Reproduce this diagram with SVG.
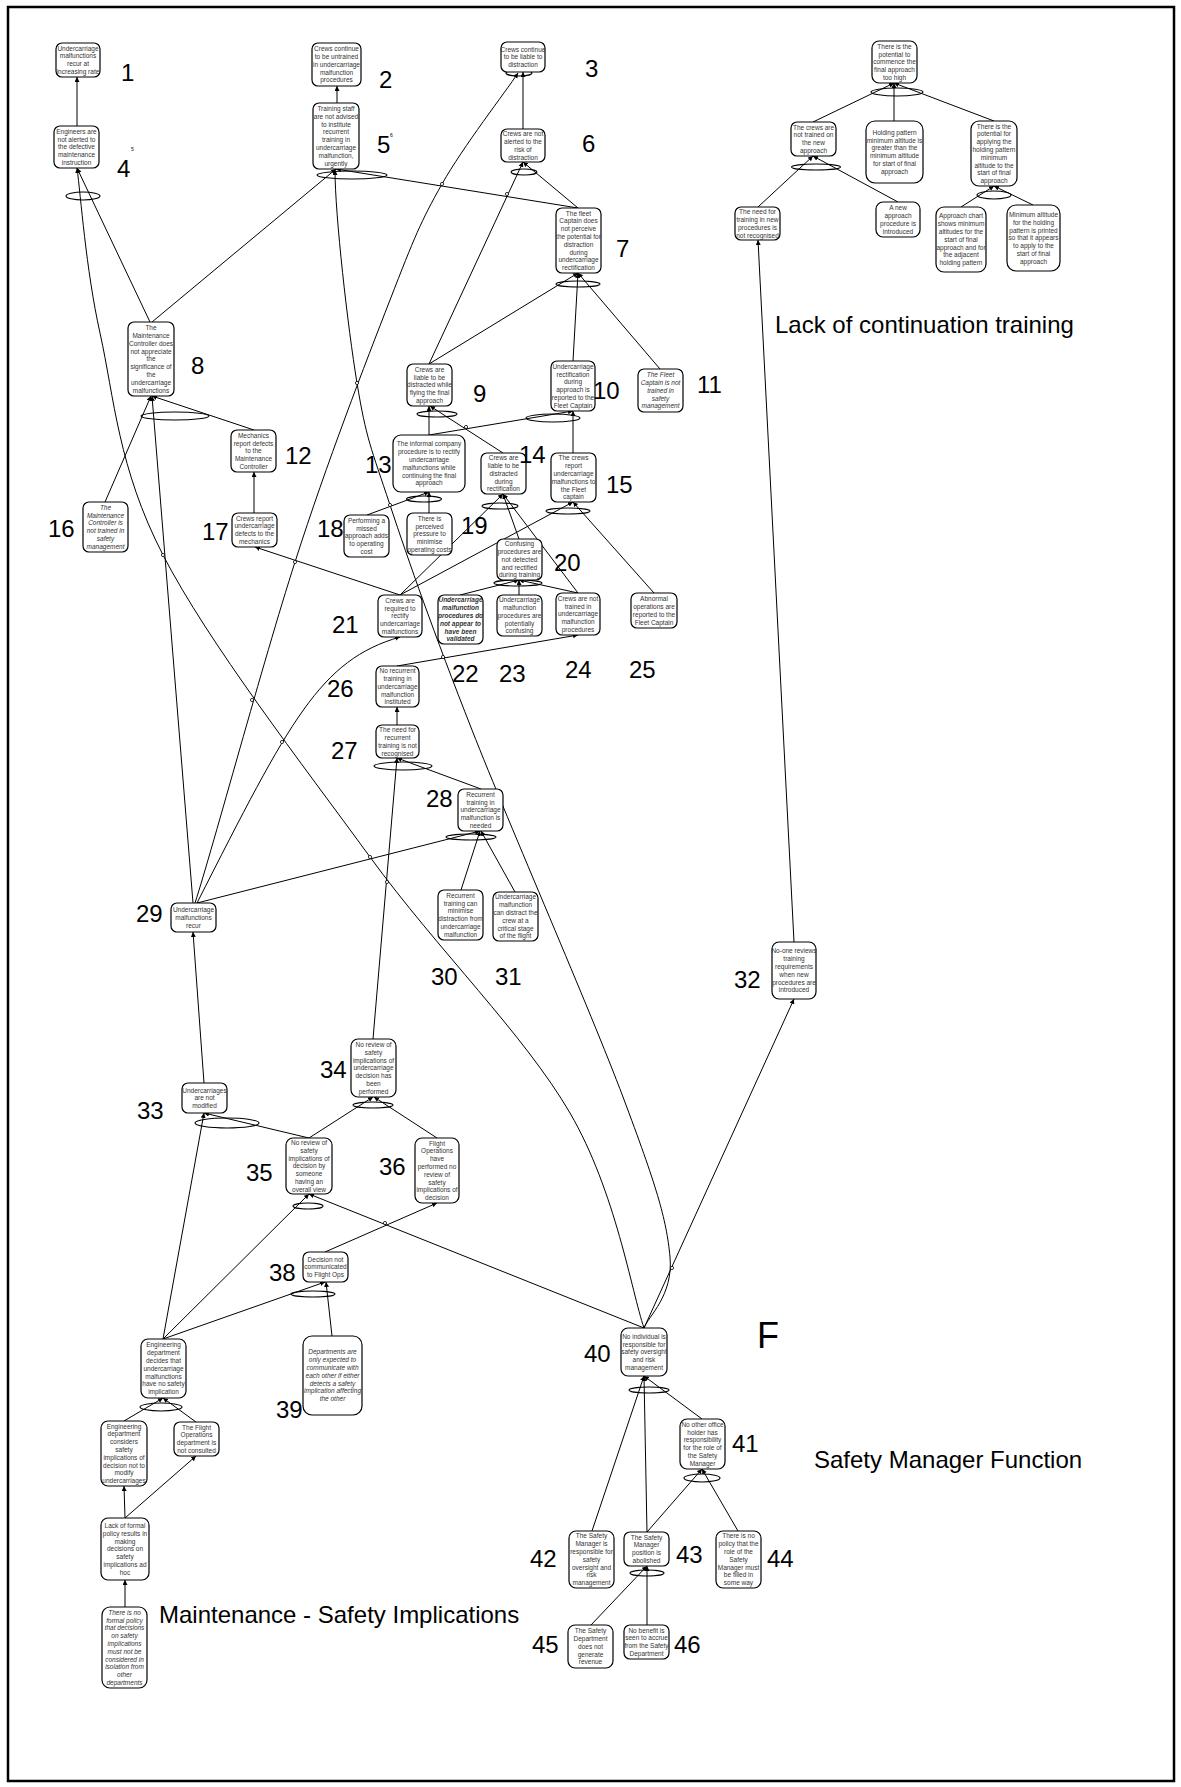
<svg xmlns="http://www.w3.org/2000/svg" width="1181" height="1787" viewBox="0 0 1181 1787">
<style>
  .n rect { fill:#fff; stroke:#000; stroke-width:1.2; }
  .n text { font-family:"Liberation Sans", Arial, sans-serif; font-size:6.5px; fill:#333; text-anchor:middle; }
  .it text { font-style:italic; }
  .bi text { font-style:italic; font-weight:bold; }
  .lbl { font-family:"Liberation Sans", Arial, sans-serif; font-size:24px; fill:#000; }
  .tiny { font-family:"Liberation Sans", Arial, sans-serif; font-size:5px; fill:#000; }
  #connectors path { fill:none; stroke:#000; stroke-width:1; marker-end:url(#ah); }
  #junctions ellipse { fill:none; stroke:#000; stroke-width:1.1; }
  #hops circle { fill:#fff; stroke:#000; stroke-width:0.8; }
</style>
<defs>
  <marker id="ah" markerUnits="userSpaceOnUse" markerWidth="6" markerHeight="6" refX="5" refY="2.5" orient="auto">
    <path d="M0,0 L5,2.5 L0,5 z" fill="#000"/>
  </marker>
</defs>
<rect x="0" y="0" width="1181" height="1787" fill="#fff"/>
<rect x="8" y="7" width="1166" height="1774" fill="none" stroke="#000" stroke-width="2.5"/>

<!-- connectors: cause (lower) to effect (upper) -->
<g id="connectors">
  <path d="M77,126 L77,77"/>
  <path d="M337,103 L337,86"/>
  <path d="M523,129 L523,72"/>
  <path d="M195,903 C213.3,846.2 262.8,662.5 295,562 C327.2,461.5 365.5,363 390,300 C414.5,237 420.7,221.7 442,184 C463.3,146.3 505.3,92.3 518,73"/>
  <path d="M150,322 L77,168"/>
  <path d="M644,1328 C631.7,1292.2 615.7,1191.5 570,1113 C524.3,1034.5 437.8,950 370,857 C302.2,764 208,642.3 163,555 C118,467.7 114.3,397.5 100,333 C85.7,268.5 80.8,195.5 77,168"/>
  <path d="M152,322 L336,169"/>
  <path d="M578,208 L336,169"/>
  <path d="M644,1328 C648.3,1316.2 673.5,1295.5 670,1257 C666.5,1218.5 656,1184.8 623,1097 C590,1009.2 510.8,828.7 472,730 C433.2,631.3 409.2,562.8 390,505 C370.8,447.2 366.2,438.8 357,383 C347.8,327.2 335,215 335,170"/>
  <path d="M429,364 L523,162"/>
  <path d="M578,208 L523,162"/>
  <path d="M429,364 L578,273"/>
  <path d="M573,361 L578,273"/>
  <path d="M660,369 L578,273"/>
  <path d="M429,435 L429,406"/>
  <path d="M503,453 L430,406"/>
  <path d="M429,435 L573,411"/>
  <path d="M573,453 L573,411"/>
  <path d="M367,515 L429,492"/>
  <path d="M429,513 L429,492"/>
  <path d="M400,595 L503,494"/>
  <path d="M519,539 L503,494"/>
  <path d="M578,593 L503,494"/>
  <path d="M400,595 L573,502"/>
  <path d="M654,593 L573,502"/>
  <path d="M460,595 L519,580"/>
  <path d="M519,595 L519,580"/>
  <path d="M578,593 L519,580"/>
  <path d="M400,595 L255,547"/>
  <path d="M254,513 L254,472"/>
  <path d="M254,430 L152,396"/>
  <path d="M105,502 L151,396"/>
  <path d="M193,903 L152,396"/>
  <path d="M197,903 C290,720 320,660 400,637"/>
  <path d="M397,666 L578,635"/>
  <path d="M397,725 L397,707"/>
  <path d="M481,789 L397,758"/>
  <path d="M373,1039 L397,758"/>
  <path d="M197,903 L480,831"/>
  <path d="M461,890 L480,831"/>
  <path d="M515,892 L481,831"/>
  <path d="M204,1083 L193,932"/>
  <path d="M163,1339 L204,1113"/>
  <path d="M309,1138 L204,1113"/>
  <path d="M309,1138 L373,1097"/>
  <path d="M437,1138 L374,1097"/>
  <path d="M163,1339 L309,1194"/>
  <path d="M644,1328 L309,1194"/>
  <path d="M325,1252 L437,1203"/>
  <path d="M163,1339 L325,1282"/>
  <path d="M332,1336 L326,1282"/>
  <path d="M124,1421 L163,1398"/>
  <path d="M196,1422 L163,1398"/>
  <path d="M125,1518 L124,1486"/>
  <path d="M125,1518 L196,1456"/>
  <path d="M125,1607 L125,1580"/>
  <path d="M592,1531 L644,1376"/>
  <path d="M647,1532 L644,1376"/>
  <path d="M702,1419 L644,1376"/>
  <path d="M647,1532 L702,1469"/>
  <path d="M738,1531 L702,1469"/>
  <path d="M591,1625 L647,1566"/>
  <path d="M647,1625 L647,1566"/>
  <path d="M644,1328 L794,999"/>
  <path d="M794,942 L758,240"/>
  <path d="M758,207 L813,156"/>
  <path d="M898,202 L813,156"/>
  <path d="M813,122 L894,83"/>
  <path d="M894,121 L894,83"/>
  <path d="M994,121 L894,83"/>
  <path d="M961,207 L994,186"/>
  <path d="M1033,205 L994,186"/>
</g>

<!-- line-crossing hops -->
<g id="hops">
  <circle cx="163" cy="555" r="1.6"/>
  <circle cx="252" cy="700" r="1.6"/>
  <circle cx="282" cy="742" r="1.6"/>
  <circle cx="295" cy="562" r="1.6"/>
  <circle cx="370" cy="857" r="1.6"/>
  <circle cx="387" cy="882" r="1.6"/>
  <circle cx="390" cy="505" r="1.6"/>
  <circle cx="442" cy="184" r="1.6"/>
  <circle cx="507" cy="194" r="1.6"/>
  <circle cx="466" cy="427" r="1.6"/>
  <circle cx="443" cy="657" r="1.6"/>
  <circle cx="385" cy="1223" r="1.6"/>
  <circle cx="672" cy="1268" r="1.6"/>
  <circle cx="357" cy="383" r="1.6"/>
</g>

<!-- AND junctions -->
<g id="junctions">
  <ellipse cx="83" cy="196" rx="17" ry="4"/>
  <ellipse cx="352" cy="175" rx="35" ry="4"/>
  <ellipse cx="519" cy="73" rx="13" ry="3"/>
  <ellipse cx="524" cy="172" rx="13" ry="3"/>
  <ellipse cx="578" cy="284" rx="22" ry="3"/>
  <ellipse cx="175" cy="416" rx="34" ry="4"/>
  <ellipse cx="437" cy="414" rx="20" ry="3"/>
  <ellipse cx="553" cy="418" rx="27" ry="4"/>
  <ellipse cx="424" cy="499" rx="17.5" ry="3"/>
  <ellipse cx="500" cy="506" rx="18" ry="3"/>
  <ellipse cx="568" cy="511" rx="22" ry="3"/>
  <ellipse cx="518" cy="583" rx="24" ry="3"/>
  <ellipse cx="403" cy="766" rx="29" ry="4"/>
  <ellipse cx="471" cy="837" rx="25" ry="3"/>
  <ellipse cx="227" cy="1123" rx="32" ry="5"/>
  <ellipse cx="373" cy="1105" rx="20" ry="3"/>
  <ellipse cx="308" cy="1206" rx="15" ry="3"/>
  <ellipse cx="313" cy="1294" rx="22" ry="3"/>
  <ellipse cx="161" cy="1407" rx="21" ry="4"/>
  <ellipse cx="649" cy="1390" rx="20" ry="3"/>
  <ellipse cx="702" cy="1478" rx="18" ry="4"/>
  <ellipse cx="647" cy="1573" rx="17" ry="3"/>
  <ellipse cx="897" cy="92" rx="26" ry="4"/>
  <ellipse cx="816" cy="167" rx="24.5" ry="3"/>
  <ellipse cx="994" cy="195" rx="17" ry="4"/>
</g>

<!-- nodes -->
<g id="n1" class="n"><rect x="56" y="43" width="44" height="34" rx="6"/><text x="78" y="50.6"><tspan x="78">Undercarriage</tspan><tspan x="78" dy="7.8">malfunctions</tspan><tspan x="78" dy="7.8">recur at</tspan><tspan x="78" dy="7.8">increasing rate</tspan></text></g>
<g id="n2" class="n"><rect x="312" y="43" width="49" height="43" rx="6"/><text x="336.5" y="51.2"><tspan x="336.5">Crews continue</tspan><tspan x="336.5" dy="7.8">to be untrained</tspan><tspan x="336.5" dy="7.8">in undercarriage</tspan><tspan x="336.5" dy="7.8">malfunction</tspan><tspan x="336.5" dy="7.8">procedures</tspan></text></g>
<g id="n3" class="n"><rect x="501" y="42" width="44" height="30" rx="6"/><text x="523" y="51.5"><tspan x="523">Crews continue</tspan><tspan x="523" dy="7.8">to be liable to</tspan><tspan x="523" dy="7.8">distraction</tspan></text></g>
<g id="n4" class="n"><rect x="54" y="126" width="45" height="42" rx="6"/><text x="76.5" y="133.7"><tspan x="76.5">Engineers are</tspan><tspan x="76.5" dy="7.8">not alerted to</tspan><tspan x="76.5" dy="7.8">the defective</tspan><tspan x="76.5" dy="7.8">maintenance</tspan><tspan x="76.5" dy="7.8">instruction</tspan></text></g>
<g id="n5" class="n"><rect x="313" y="103" width="46" height="66" rx="6"/><text x="336" y="111"><tspan x="336">Training staff</tspan><tspan x="336" dy="7.8">are not advised</tspan><tspan x="336" dy="7.8">to institute</tspan><tspan x="336" dy="7.8">recurrent</tspan><tspan x="336" dy="7.8">training in</tspan><tspan x="336" dy="7.8">undercarriage</tspan><tspan x="336" dy="7.8">malfunction,</tspan><tspan x="336" dy="7.8">urgently</tspan></text></g>
<g id="n6" class="n"><rect x="501" y="129" width="44" height="33" rx="6"/><text x="523" y="136.1"><tspan x="523">Crews are not</tspan><tspan x="523" dy="7.8">alerted to the</tspan><tspan x="523" dy="7.8">risk of</tspan><tspan x="523" dy="7.8">distraction</tspan></text></g>
<g id="n7" class="n"><rect x="556" y="208" width="45" height="65" rx="6"/><text x="578.5" y="215.5"><tspan x="578.5">The fleet</tspan><tspan x="578.5" dy="7.8">Captain does</tspan><tspan x="578.5" dy="7.8">not perceive</tspan><tspan x="578.5" dy="7.8">the potential for</tspan><tspan x="578.5" dy="7.8">distraction</tspan><tspan x="578.5" dy="7.8">during</tspan><tspan x="578.5" dy="7.8">undercarriage</tspan><tspan x="578.5" dy="7.8">rectification</tspan></text></g>
<g id="n8" class="n"><rect x="128" y="322" width="46" height="74" rx="6"/><text x="151" y="330.1"><tspan x="151">The</tspan><tspan x="151" dy="7.8">Maintenance</tspan><tspan x="151" dy="7.8">Controller does</tspan><tspan x="151" dy="7.8">not appreciate</tspan><tspan x="151" dy="7.8">the</tspan><tspan x="151" dy="7.8">significance of</tspan><tspan x="151" dy="7.8">the</tspan><tspan x="151" dy="7.8">undercarriage</tspan><tspan x="151" dy="7.8">malfunctions</tspan></text></g>
<g id="n9" class="n"><rect x="407" y="364" width="45" height="42" rx="6"/><text x="429.5" y="371.7"><tspan x="429.5">Crews are</tspan><tspan x="429.5" dy="7.8">liable to be</tspan><tspan x="429.5" dy="7.8">distracted while</tspan><tspan x="429.5" dy="7.8">flying the final</tspan><tspan x="429.5" dy="7.8">approach</tspan></text></g>
<g id="n10" class="n"><rect x="551" y="361" width="44" height="50" rx="6"/><text x="573" y="368.8"><tspan x="573">Undercarriage</tspan><tspan x="573" dy="7.8">rectification</tspan><tspan x="573" dy="7.8">during</tspan><tspan x="573" dy="7.8">approach is</tspan><tspan x="573" dy="7.8">reported to the</tspan><tspan x="573" dy="7.8">Fleet Captain</tspan></text></g>
<g id="n11" class="n it"><rect x="638" y="369" width="45" height="43" rx="6"/><text x="660.5" y="377.2"><tspan x="660.5">The Fleet</tspan><tspan x="660.5" dy="7.8">Captain is not</tspan><tspan x="660.5" dy="7.8">trained in</tspan><tspan x="660.5" dy="7.8">safety</tspan><tspan x="660.5" dy="7.8">management</tspan></text></g>
<g id="n12" class="n"><rect x="231" y="430" width="45" height="42" rx="6"/><text x="253.5" y="437.7"><tspan x="253.5">Mechanics</tspan><tspan x="253.5" dy="7.8">report defects</tspan><tspan x="253.5" dy="7.8">to the</tspan><tspan x="253.5" dy="7.8">Maintenance</tspan><tspan x="253.5" dy="7.8">Controller</tspan></text></g>
<g id="n13" class="n"><rect x="393" y="435" width="72" height="57" rx="8"/><text x="429" y="446.3"><tspan x="429">The informal company</tspan><tspan x="429" dy="7.8">procedure is to rectify</tspan><tspan x="429" dy="7.8">undercarriage</tspan><tspan x="429" dy="7.8">malfunctions while</tspan><tspan x="429" dy="7.8">continuing the final</tspan><tspan x="429" dy="7.8">approach</tspan></text></g>
<g id="n14" class="n"><rect x="481" y="453" width="45" height="41" rx="6"/><text x="503.5" y="460.2"><tspan x="503.5">Crews are</tspan><tspan x="503.5" dy="7.8">liable to be</tspan><tspan x="503.5" dy="7.8">distracted</tspan><tspan x="503.5" dy="7.8">during</tspan><tspan x="503.5" dy="7.8">rectification</tspan></text></g>
<g id="n15" class="n"><rect x="551" y="453" width="45" height="49" rx="6"/><text x="573.5" y="460.3"><tspan x="573.5">The crews</tspan><tspan x="573.5" dy="7.8">report</tspan><tspan x="573.5" dy="7.8">undercarriage</tspan><tspan x="573.5" dy="7.8">malfunctions to</tspan><tspan x="573.5" dy="7.8">the Fleet</tspan><tspan x="573.5" dy="7.8">captain</tspan></text></g>
<g id="n16" class="n it"><rect x="83" y="502" width="45" height="50" rx="6"/><text x="105.5" y="509.8"><tspan x="105.5">The</tspan><tspan x="105.5" dy="7.8">Maintenance</tspan><tspan x="105.5" dy="7.8">Controller is</tspan><tspan x="105.5" dy="7.8">not trained in</tspan><tspan x="105.5" dy="7.8">safety</tspan><tspan x="105.5" dy="7.8">management</tspan></text></g>
<g id="n17" class="n"><rect x="232" y="513" width="45" height="34" rx="6"/><text x="254.5" y="520.6"><tspan x="254.5">Crews report</tspan><tspan x="254.5" dy="7.8">undercarriage</tspan><tspan x="254.5" dy="7.8">defects to the</tspan><tspan x="254.5" dy="7.8">mechanics</tspan></text></g>
<g id="n18" class="n"><rect x="344" y="515" width="45" height="42" rx="6"/><text x="366.5" y="522.7"><tspan x="366.5">Performing a</tspan><tspan x="366.5" dy="7.8">missed</tspan><tspan x="366.5" dy="7.8">approach adds</tspan><tspan x="366.5" dy="7.8">to operating</tspan><tspan x="366.5" dy="7.8">cost</tspan></text></g>
<g id="n19" class="n"><rect x="407" y="513" width="45" height="42" rx="6"/><text x="429.5" y="520.7"><tspan x="429.5">There is</tspan><tspan x="429.5" dy="7.8">perceived</tspan><tspan x="429.5" dy="7.8">pressure to</tspan><tspan x="429.5" dy="7.8">minimise</tspan><tspan x="429.5" dy="7.8">operating costs</tspan></text></g>
<g id="n20" class="n"><rect x="497" y="539" width="45" height="41" rx="6"/><text x="519.5" y="546.2"><tspan x="519.5">Confusing</tspan><tspan x="519.5" dy="7.8">procedures are</tspan><tspan x="519.5" dy="7.8">not detected</tspan><tspan x="519.5" dy="7.8">and rectified</tspan><tspan x="519.5" dy="7.8">during training</tspan></text></g>
<g id="n21" class="n"><rect x="378" y="595" width="44" height="42" rx="6"/><text x="400" y="602.7"><tspan x="400">Crews are</tspan><tspan x="400" dy="7.8">required to</tspan><tspan x="400" dy="7.8">rectify</tspan><tspan x="400" dy="7.8">undercarriage</tspan><tspan x="400" dy="7.8">malfunctions</tspan></text></g>
<g id="n22" class="n bi"><rect x="438" y="595" width="45" height="49" rx="6"/><text x="460.5" y="602.3"><tspan x="460.5">Undercarriage</tspan><tspan x="460.5" dy="7.8">malfunction</tspan><tspan x="460.5" dy="7.8">procedures do</tspan><tspan x="460.5" dy="7.8">not appear to</tspan><tspan x="460.5" dy="7.8">have been</tspan><tspan x="460.5" dy="7.8">validated</tspan></text></g>
<g id="n23" class="n"><rect x="497" y="595" width="45" height="41" rx="6"/><text x="519.5" y="602.2"><tspan x="519.5">Undercarriage</tspan><tspan x="519.5" dy="7.8">malfunction</tspan><tspan x="519.5" dy="7.8">procedures are</tspan><tspan x="519.5" dy="7.8">potentially</tspan><tspan x="519.5" dy="7.8">confusing</tspan></text></g>
<g id="n24" class="n"><rect x="556" y="593" width="44" height="42" rx="6"/><text x="578" y="600.7"><tspan x="578">Crews are not</tspan><tspan x="578" dy="7.8">trained in</tspan><tspan x="578" dy="7.8">undercarriage</tspan><tspan x="578" dy="7.8">malfunction</tspan><tspan x="578" dy="7.8">procedures</tspan></text></g>
<g id="n25" class="n"><rect x="631" y="593" width="46" height="35" rx="6"/><text x="654" y="601.1"><tspan x="654">Abnormal</tspan><tspan x="654" dy="7.8">operations are</tspan><tspan x="654" dy="7.8">reported to the</tspan><tspan x="654" dy="7.8">Fleet Captain</tspan></text></g>
<g id="n26" class="n"><rect x="376" y="666" width="43" height="41" rx="6"/><text x="397.5" y="673.2"><tspan x="397.5">No recurrent</tspan><tspan x="397.5" dy="7.8">training in</tspan><tspan x="397.5" dy="7.8">undercarriage</tspan><tspan x="397.5" dy="7.8">malfunction</tspan><tspan x="397.5" dy="7.8">instituted</tspan></text></g>
<g id="n27" class="n"><rect x="376" y="725" width="43" height="33" rx="6"/><text x="397.5" y="732.1"><tspan x="397.5">The need for</tspan><tspan x="397.5" dy="7.8">recurrent</tspan><tspan x="397.5" dy="7.8">training is not</tspan><tspan x="397.5" dy="7.8">recognised</tspan></text></g>
<g id="n28" class="n"><rect x="458" y="789" width="45" height="42" rx="6"/><text x="480.5" y="796.7"><tspan x="480.5">Recurrent</tspan><tspan x="480.5" dy="7.8">training in</tspan><tspan x="480.5" dy="7.8">undercarriage</tspan><tspan x="480.5" dy="7.8">malfunction is</tspan><tspan x="480.5" dy="7.8">needed</tspan></text></g>
<g id="n29" class="n"><rect x="171" y="903" width="45" height="29" rx="6"/><text x="193.5" y="912"><tspan x="193.5">Undercarriage</tspan><tspan x="193.5" dy="7.8">malfunctions</tspan><tspan x="193.5" dy="7.8">recur</tspan></text></g>
<g id="n30" class="n"><rect x="438" y="890" width="45" height="50" rx="6"/><text x="460.5" y="897.8"><tspan x="460.5">Recurrent</tspan><tspan x="460.5" dy="7.8">training can</tspan><tspan x="460.5" dy="7.8">minimise</tspan><tspan x="460.5" dy="7.8">distraction from</tspan><tspan x="460.5" dy="7.8">undercarriage</tspan><tspan x="460.5" dy="7.8">malfunction</tspan></text></g>
<g id="n31" class="n"><rect x="493" y="892" width="45" height="49" rx="6"/><text x="515.5" y="899.3"><tspan x="515.5">Undercarriage</tspan><tspan x="515.5" dy="7.8">malfunction</tspan><tspan x="515.5" dy="7.8">can distract the</tspan><tspan x="515.5" dy="7.8">crew at a</tspan><tspan x="515.5" dy="7.8">critical stage</tspan><tspan x="515.5" dy="7.8">of the flight</tspan></text></g>
<g id="n32" class="n"><rect x="772" y="942" width="44" height="57" rx="7"/><text x="794" y="953.3"><tspan x="794">No-one reviews</tspan><tspan x="794" dy="7.8">training</tspan><tspan x="794" dy="7.8">requirements</tspan><tspan x="794" dy="7.8">when new</tspan><tspan x="794" dy="7.8">procedures are</tspan><tspan x="794" dy="7.8">introduced</tspan></text></g>
<g id="n33" class="n"><rect x="182" y="1083" width="45" height="30" rx="6"/><text x="204.5" y="1092.5"><tspan x="204.5">Undercarriages</tspan><tspan x="204.5" dy="7.8">are not</tspan><tspan x="204.5" dy="7.8">modified</tspan></text></g>
<g id="n34" class="n"><rect x="351" y="1039" width="45" height="58" rx="7"/><text x="373.5" y="1046.9"><tspan x="373.5">No review of</tspan><tspan x="373.5" dy="7.8">safety</tspan><tspan x="373.5" dy="7.8">implications of</tspan><tspan x="373.5" dy="7.8">undercarriage</tspan><tspan x="373.5" dy="7.8">decision has</tspan><tspan x="373.5" dy="7.8">been</tspan><tspan x="373.5" dy="7.8">performed</tspan></text></g>
<g id="n35" class="n"><rect x="286" y="1138" width="46" height="56" rx="7"/><text x="309" y="1144.9"><tspan x="309">No review of</tspan><tspan x="309" dy="7.8">safety</tspan><tspan x="309" dy="7.8">implications of</tspan><tspan x="309" dy="7.8">decision by</tspan><tspan x="309" dy="7.8">someone</tspan><tspan x="309" dy="7.8">having an</tspan><tspan x="309" dy="7.8">overall view</tspan></text></g>
<g id="n36" class="n"><rect x="415" y="1138" width="44" height="65" rx="7"/><text x="437" y="1145.5"><tspan x="437">Flight</tspan><tspan x="437" dy="7.8">Operations</tspan><tspan x="437" dy="7.8">have</tspan><tspan x="437" dy="7.8">performed no</tspan><tspan x="437" dy="7.8">review of</tspan><tspan x="437" dy="7.8">safety</tspan><tspan x="437" dy="7.8">implications of</tspan><tspan x="437" dy="7.8">decision</tspan></text></g>
<g id="n38" class="n"><rect x="303" y="1252" width="45" height="30" rx="6"/><text x="325.5" y="1261.5"><tspan x="325.5">Decision not</tspan><tspan x="325.5" dy="7.8">communicated</tspan><tspan x="325.5" dy="7.8">to Flight Ops</tspan></text></g>
<g id="n39" class="n it"><rect x="303" y="1336" width="59" height="79" rx="9"/><text x="332.5" y="1354.4"><tspan x="332.5">Departments are</tspan><tspan x="332.5" dy="7.8">only expected to</tspan><tspan x="332.5" dy="7.8">communicate with</tspan><tspan x="332.5" dy="7.8">each other if either</tspan><tspan x="332.5" dy="7.8">detects a safety</tspan><tspan x="332.5" dy="7.8">implication affecting</tspan><tspan x="332.5" dy="7.8">the other</tspan></text></g>
<g id="n40" class="n"><rect x="621" y="1328" width="46" height="48" rx="7"/><text x="644" y="1338.7"><tspan x="644">No individual is</tspan><tspan x="644" dy="7.8">responsible for</tspan><tspan x="644" dy="7.8">safety oversight</tspan><tspan x="644" dy="7.8">and risk</tspan><tspan x="644" dy="7.8">management</tspan></text></g>
<g id="n41" class="n"><rect x="680" y="1419" width="45" height="50" rx="7"/><text x="702.5" y="1426.8"><tspan x="702.5">No other office</tspan><tspan x="702.5" dy="7.8">holder has</tspan><tspan x="702.5" dy="7.8">responsibility</tspan><tspan x="702.5" dy="7.8">for the role of</tspan><tspan x="702.5" dy="7.8">the Safety</tspan><tspan x="702.5" dy="7.8">Manager</tspan></text></g>
<g id="n42" class="n"><rect x="569" y="1531" width="45" height="57" rx="7"/><text x="591.5" y="1538.4"><tspan x="591.5">The Safety</tspan><tspan x="591.5" dy="7.8">Manager is</tspan><tspan x="591.5" dy="7.8">responsible for</tspan><tspan x="591.5" dy="7.8">safety</tspan><tspan x="591.5" dy="7.8">oversight and</tspan><tspan x="591.5" dy="7.8">risk</tspan><tspan x="591.5" dy="7.8">management</tspan></text></g>
<g id="n43" class="n"><rect x="624" y="1532" width="45" height="34" rx="6"/><text x="646.5" y="1539.6"><tspan x="646.5">The Safety</tspan><tspan x="646.5" dy="7.8">Manager</tspan><tspan x="646.5" dy="7.8">position is</tspan><tspan x="646.5" dy="7.8">abolished</tspan></text></g>
<g id="n44" class="n"><rect x="716" y="1531" width="45" height="57" rx="7"/><text x="738.5" y="1538.4"><tspan x="738.5">There is no</tspan><tspan x="738.5" dy="7.8">policy that the</tspan><tspan x="738.5" dy="7.8">role of the</tspan><tspan x="738.5" dy="7.8">Safety</tspan><tspan x="738.5" dy="7.8">Manager must</tspan><tspan x="738.5" dy="7.8">be filled in</tspan><tspan x="738.5" dy="7.8">some way</tspan></text></g>
<g id="n45" class="n"><rect x="568" y="1625" width="45" height="43" rx="7"/><text x="590.5" y="1633.2"><tspan x="590.5">The Safety</tspan><tspan x="590.5" dy="7.8">Department</tspan><tspan x="590.5" dy="7.8">does not</tspan><tspan x="590.5" dy="7.8">generate</tspan><tspan x="590.5" dy="7.8">revenue</tspan></text></g>
<g id="n46" class="n"><rect x="624" y="1625" width="45" height="34" rx="6"/><text x="646.5" y="1632.6"><tspan x="646.5">No benefit is</tspan><tspan x="646.5" dy="7.8">seen to accrue</tspan><tspan x="646.5" dy="7.8">from the Safety</tspan><tspan x="646.5" dy="7.8">Department</tspan></text></g>
<g id="eng-decides" class="n"><rect x="141" y="1339" width="45" height="59" rx="7"/><text x="163.5" y="1347.4"><tspan x="163.5">Engineering</tspan><tspan x="163.5" dy="7.8">department</tspan><tspan x="163.5" dy="7.8">decides that</tspan><tspan x="163.5" dy="7.8">undercarriage</tspan><tspan x="163.5" dy="7.8">malfunctions</tspan><tspan x="163.5" dy="7.8">have no safety</tspan><tspan x="163.5" dy="7.8">implication</tspan></text></g>
<g id="eng-considers" class="n"><rect x="101" y="1421" width="46" height="65" rx="7"/><text x="124" y="1428.5"><tspan x="124">Engineering</tspan><tspan x="124" dy="7.8">department</tspan><tspan x="124" dy="7.8">considers</tspan><tspan x="124" dy="7.8">safety</tspan><tspan x="124" dy="7.8">implications of</tspan><tspan x="124" dy="7.8">decision not to</tspan><tspan x="124" dy="7.8">modify</tspan><tspan x="124" dy="7.8">undercarriages</tspan></text></g>
<g id="flight-ops-not-consulted" class="n"><rect x="174" y="1422" width="45" height="34" rx="6"/><text x="196.5" y="1429.6"><tspan x="196.5">The Flight</tspan><tspan x="196.5" dy="7.8">Operations</tspan><tspan x="196.5" dy="7.8">department is</tspan><tspan x="196.5" dy="7.8">not consulted</tspan></text></g>
<g id="no-formal-policy-adhoc" class="n"><rect x="101" y="1518" width="48" height="62" rx="7"/><text x="125" y="1527.9"><tspan x="125">Lack of formal</tspan><tspan x="125" dy="7.8">policy results in</tspan><tspan x="125" dy="7.8">making</tspan><tspan x="125" dy="7.8">decisions on</tspan><tspan x="125" dy="7.8">safety</tspan><tspan x="125" dy="7.8">implications ad</tspan><tspan x="125" dy="7.8">hoc</tspan></text></g>
<g id="no-formal-policy" class="n it"><rect x="102" y="1607" width="45" height="81" rx="8"/><text x="124.5" y="1614.7"><tspan x="124.5">There is no</tspan><tspan x="124.5" dy="7.8">formal policy</tspan><tspan x="124.5" dy="7.8">that decisions</tspan><tspan x="124.5" dy="7.8">on safety</tspan><tspan x="124.5" dy="7.8">implications</tspan><tspan x="124.5" dy="7.8">must not be</tspan><tspan x="124.5" dy="7.8">considered in</tspan><tspan x="124.5" dy="7.8">isolation from</tspan><tspan x="124.5" dy="7.8">other</tspan><tspan x="124.5" dy="7.8">departments</tspan></text></g>
<g id="approach-too-high" class="n"><rect x="872" y="41" width="45" height="42" rx="7"/><text x="894.5" y="48.7"><tspan x="894.5">There is the</tspan><tspan x="894.5" dy="7.8">potential to</tspan><tspan x="894.5" dy="7.8">commence the</tspan><tspan x="894.5" dy="7.8">final approach</tspan><tspan x="894.5" dy="7.8">too high</tspan></text></g>
<g id="crews-not-trained-approach" class="n"><rect x="791" y="122" width="45" height="34" rx="6"/><text x="813.5" y="129.6"><tspan x="813.5">The crews are</tspan><tspan x="813.5" dy="7.8">not trained on</tspan><tspan x="813.5" dy="7.8">the new</tspan><tspan x="813.5" dy="7.8">approach</tspan></text></g>
<g id="holding-altitude" class="n"><rect x="866" y="121" width="57" height="62" rx="9"/><text x="894.5" y="134.8"><tspan x="894.5">Holding pattern</tspan><tspan x="894.5" dy="7.8">minimum altitude is</tspan><tspan x="894.5" dy="7.8">greater than the</tspan><tspan x="894.5" dy="7.8">minimum altitude</tspan><tspan x="894.5" dy="7.8">for start of final</tspan><tspan x="894.5" dy="7.8">approach</tspan></text></g>
<g id="applying-holding-altitude" class="n"><rect x="971" y="121" width="46" height="65" rx="8"/><text x="994" y="128.5"><tspan x="994">There is the</tspan><tspan x="994" dy="7.8">potential for</tspan><tspan x="994" dy="7.8">applying the</tspan><tspan x="994" dy="7.8">holding pattern</tspan><tspan x="994" dy="7.8">minimum</tspan><tspan x="994" dy="7.8">altitude to the</tspan><tspan x="994" dy="7.8">start of final</tspan><tspan x="994" dy="7.8">approach</tspan></text></g>
<g id="new-approach" class="n"><rect x="876" y="202" width="44" height="35" rx="7"/><text x="898" y="210.1"><tspan x="898">A new</tspan><tspan x="898" dy="7.8">approach</tspan><tspan x="898" dy="7.8">procedure is</tspan><tspan x="898" dy="7.8">introduced</tspan></text></g>
<g id="approach-chart" class="n"><rect x="936" y="207" width="50" height="65" rx="8"/><text x="961" y="218.4"><tspan x="961">Approach chart</tspan><tspan x="961" dy="7.8">shows minimum</tspan><tspan x="961" dy="7.8">altitudes for the</tspan><tspan x="961" dy="7.8">start of final</tspan><tspan x="961" dy="7.8">approach and for</tspan><tspan x="961" dy="7.8">the adjacent</tspan><tspan x="961" dy="7.8">holding pattern</tspan></text></g>
<g id="min-altitude-printed" class="n"><rect x="1007" y="205" width="53" height="66" rx="9"/><text x="1033.5" y="216.9"><tspan x="1033.5">Minimum altitude</tspan><tspan x="1033.5" dy="7.8">for the holding</tspan><tspan x="1033.5" dy="7.8">pattern is printed</tspan><tspan x="1033.5" dy="7.8">so that it appears</tspan><tspan x="1033.5" dy="7.8">to apply to the</tspan><tspan x="1033.5" dy="7.8">start of final</tspan><tspan x="1033.5" dy="7.8">approach</tspan></text></g>
<g id="need-training-new" class="n"><rect x="735" y="207" width="45" height="33" rx="6"/><text x="757.5" y="214.1"><tspan x="757.5">The need for</tspan><tspan x="757.5" dy="7.8">training in new</tspan><tspan x="757.5" dy="7.8">procedures is</tspan><tspan x="757.5" dy="7.8">not recognised</tspan></text></g>

<!-- node numbers -->
<g id="numbers" class="lbl">
  <text x="121" y="81">1</text>
  <text x="379" y="88">2</text>
  <text x="585" y="77">3</text>
  <text x="117" y="177">4</text>
  <text x="377" y="153">5</text>
  <text x="582" y="152">6</text>
  <text x="616" y="257">7</text>
  <text x="191" y="374">8</text>
  <text x="473" y="402">9</text>
  <text x="593" y="399">10</text>
  <text x="697" y="393">11</text>
  <text x="285" y="464">12</text>
  <text x="365" y="473">13</text>
  <text x="519" y="463">14</text>
  <text x="606" y="493">15</text>
  <text x="48" y="537">16</text>
  <text x="202" y="540">17</text>
  <text x="317" y="537">18</text>
  <text x="461" y="534">19</text>
  <text x="554" y="571">20</text>
  <text x="332" y="633">21</text>
  <text x="452" y="682">22</text>
  <text x="499" y="682">23</text>
  <text x="565" y="678">24</text>
  <text x="629" y="678">25</text>
  <text x="327" y="697">26</text>
  <text x="331" y="759">27</text>
  <text x="426" y="807">28</text>
  <text x="136" y="922">29</text>
  <text x="431" y="985">30</text>
  <text x="495" y="985">31</text>
  <text x="734" y="988">32</text>
  <text x="137" y="1119">33</text>
  <text x="320" y="1078">34</text>
  <text x="246" y="1181">35</text>
  <text x="379" y="1175">36</text>
  <text x="269" y="1281">38</text>
  <text x="276" y="1418">39</text>
  <text x="584" y="1362">40</text>
  <text x="732" y="1452">41</text>
  <text x="530" y="1567">42</text>
  <text x="676" y="1563">43</text>
  <text x="767" y="1567">44</text>
  <text x="532" y="1653">45</text>
  <text x="674" y="1653">46</text>
</g>
<text class="tiny" x="131" y="151">5</text>
<text class="tiny" x="390" y="137">6</text>
<text class="lbl" x="757" y="1348" style="font-size:36px">F</text>

<!-- section titles -->
<text class="lbl" x="775" y="333">Lack of continuation training</text>
<text class="lbl" x="159" y="1623">Maintenance - Safety Implications</text>
<text class="lbl" x="814" y="1468">Safety Manager Function</text>
</svg>
